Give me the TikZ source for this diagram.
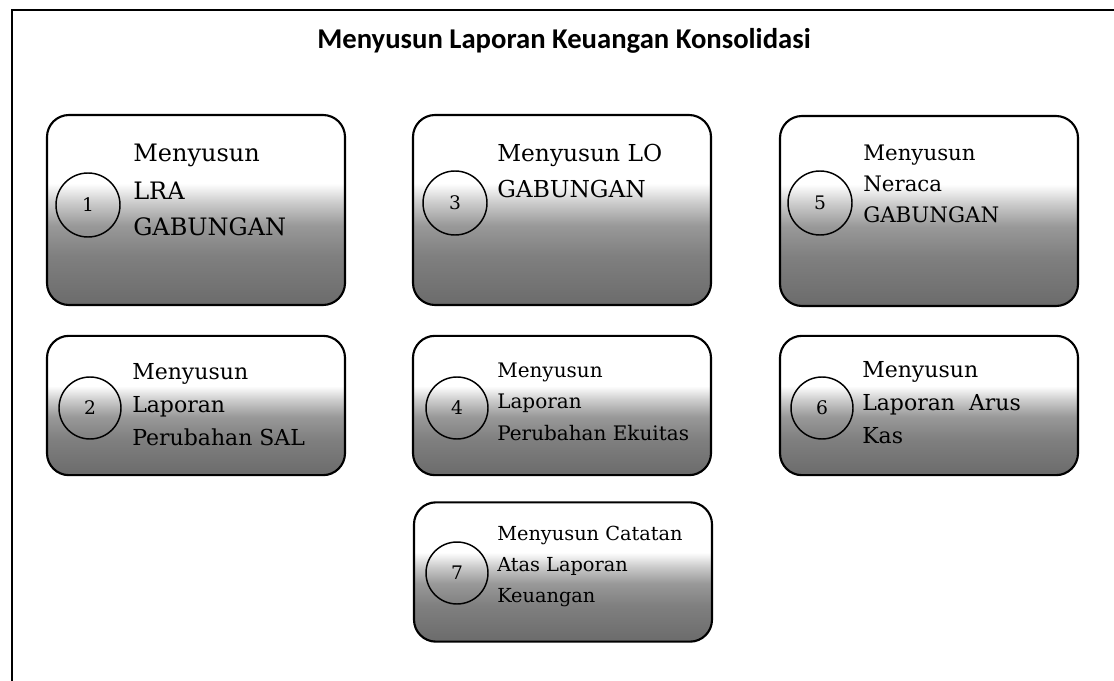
\documentclass[tikz,border=0pt]{standalone}
\usepackage{fontspec}
\setmainfont{DejaVu Serif}
\newfontfamily\titlefont{Carlito}
\pgfdeclareverticalshading{boxshade}{100bp}{color(0bp)=(black!58); color(25bp)=(black!58); color(38bp)=(black!50); color(46bp)=(black!40); color(52bp)=(black!20); color(57bp)=(white); color(100bp)=(white)}
\tikzset{
  card/.style={draw=black, line width=1.6pt, rounded corners=16.5pt, shading=boxshade, minimum width=223.5pt, inner sep=0pt},
  tallcard/.style={card, minimum height=142.5pt},
  shortcard/.style={card, minimum height=104.5pt},
  numcirc/.style={circle, draw=black, line width=1.1pt, inner sep=0pt, font=\fontsize{14}{14}\selectfont},
  bigcirc/.style={numcirc, minimum size=48pt},
  smallcirc/.style={numcirc, minimum size=46.5pt},
  label/.style={anchor=base west, align=left, inner sep=0pt},
  frameline/.style={line width=1.4pt}
}
\begin{document}
\begin{tikzpicture}[x=0.75pt, y=-0.75pt]
\useasboundingbox (0,0) rectangle (1114,681);
% frame
\coordinate (ftr) at (1114,10);
\coordinate (ftl) at (12,10);
\coordinate (fbl) at (12,681);
\draw[frameline] (ftr) -- (ftl) -- (fbl);
% title
\node[anchor=base, inner sep=0pt, font=\titlefont\bfseries\fontsize{21.5}{24}\selectfont] (title) at (564,49) {Menyusun Laporan Keuangan Konsolidasi};
% cards
\node[tallcard] (b1) at (196,210) {};
\node[tallcard] (b3) at (562,210) {};
\node[tallcard] (b5) at (929,211) {};
\node[shortcard] (b2) at (196,405.5) {};
\node[shortcard] (b4) at (562,405.5) {};
\node[shortcard] (b6) at (929,405.5) {};
\node[shortcard] (b7) at (563,572) {};
% circles
\node[bigcirc] (c1) at (88,205) {1};
\node[bigcirc] (c3) at (455,203) {3};
\node[bigcirc] (c5) at (820,203) {5};
\node[smallcirc] (c2) at (90,408) {2};
\node[smallcirc] (c4) at (457,408) {4};
\node[smallcirc] (c6) at (822,408) {6};
\node[smallcirc] (c7) at (457,573) {7};
% texts (anchored at the baseline of the last line)
\node[label, font=\fontsize{18}{27.75}\selectfont] (t1) at (133,236) {Menyusun\\LRA\\GABUNGAN};
\node[label, font=\fontsize{17.5}{27}\selectfont] (t3) at (497,198) {Menyusun LO\\GABUNGAN};
\node[label, font=\fontsize{16}{23.6}\selectfont] (t5) at (863,223) {Menyusun\\Neraca\\GABUNGAN};
\node[label, font=\fontsize{16.5}{24.75}\selectfont] (t2) at (132,445) {Menyusun\\Laporan\\Perubahan SAL};
\node[label, font=\fontsize{15}{23.6}\selectfont] (t4) at (497,440) {Menyusun\\Laporan\\Perubahan Ekuitas};
\node[label, font=\fontsize{16.5}{24.4}\selectfont] (t6) at (862,443) {Menyusun\\Laporan~ Arus\\Kas};
\node[label, font=\fontsize{14.5}{23.25}\selectfont] (t7) at (497,602) {Menyusun Catatan\\Atas Laporan\\Keuangan};
\end{tikzpicture}
\end{document}
